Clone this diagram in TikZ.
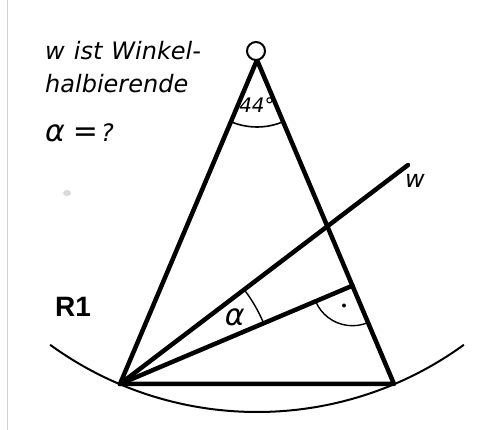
\documentclass[tikz,border=0pt]{standalone}
\usepackage{fontspec}
\newfontfamily\handfont{DejaVu Sans}
\newfontfamily\tagfont{Liberation Sans}
\usetikzlibrary{calc,angles}

\tikzset{
  side/.style={line width=4.5pt, line cap=round},
  hand/.style={font=\handfont\itshape\fontsize{24}{28}\selectfont, inner sep=0pt},
  bighand/.style={font=\handfont\itshape\fontsize{30}{32}\selectfont, inner sep=0pt},
}

\begin{document}
\begin{tikzpicture}[x=1pt, y=-1pt]
    \useasboundingbox (0,0) rectangle (480,430);
    % Borda da folha
    \draw[gray!35, line width=1pt] (7,0) -- (7,430);
    \fill[gray!30] (67,193) ellipse (4pt and 3pt);

    % Vértices do triângulo e pontos da bissetriz e da altura
    \coordinate (A) at (120,384);
    \coordinate (B) at (394,384);
    \coordinate (C) at (257,60);
    \coordinate (W) at (408,165);
    \coordinate (F) at ($(B)!(A)!(C)$);

    % Arco do círculo com centro em C
    \draw[line width=2pt] (C) ++(234:352pt) arc[start angle=234, end angle=306, radius=352pt];

    % Bissetriz w e altura
    \draw[side] (A) -- (W);
    \draw[side] (A) -- (F);

    % Triângulo
    \draw[side, line join=round] (A) -- (B) -- (C) -- cycle;
    \node[circle, draw, fill=white, line width=2pt, minimum size=18pt, inner sep=0pt] (top) at (256,51) {};

    % Ângulos
    \pic[draw, line width=1.6pt, angle radius=67pt, angle eccentricity=0.68,
         pic text={44°}, pic text options={hand, font=\handfont\itshape\fontsize{20}{24}\selectfont}] {angle=A--C--B};
    \pic[draw, line width=1.4pt, angle radius=156pt, angle eccentricity=0.85,
         pic text={α}, pic text options={bighand}] {angle=F--A--W};
    \pic[draw, line width=1.4pt, angle radius=40pt, angle eccentricity=0.55,
         pic text={$\bullet$}] {angle=A--F--B};

    % Textos
    \node[hand, anchor=base west] (line1) at (45,60) {w\hspace{9pt}ist\hspace{9pt}Winkel-};
    \node[hand, anchor=base west] (line2) at (45,93) {halbierende};
    \node[hand, anchor=base west] (ask) at (45,142) {{\fontsize{30}{32}\selectfont α}\hspace{8pt}{\fontsize{30}{32}\selectfont =}\hspace{3pt}?};
    \node[hand] (wname) at (415,181) {w};
    \node[font=\tagfont\bfseries\fontsize{28}{32}\selectfont, inner sep=0pt, anchor=base west] (tag) at (55,317) {R1};
\end{tikzpicture}
\end{document}
